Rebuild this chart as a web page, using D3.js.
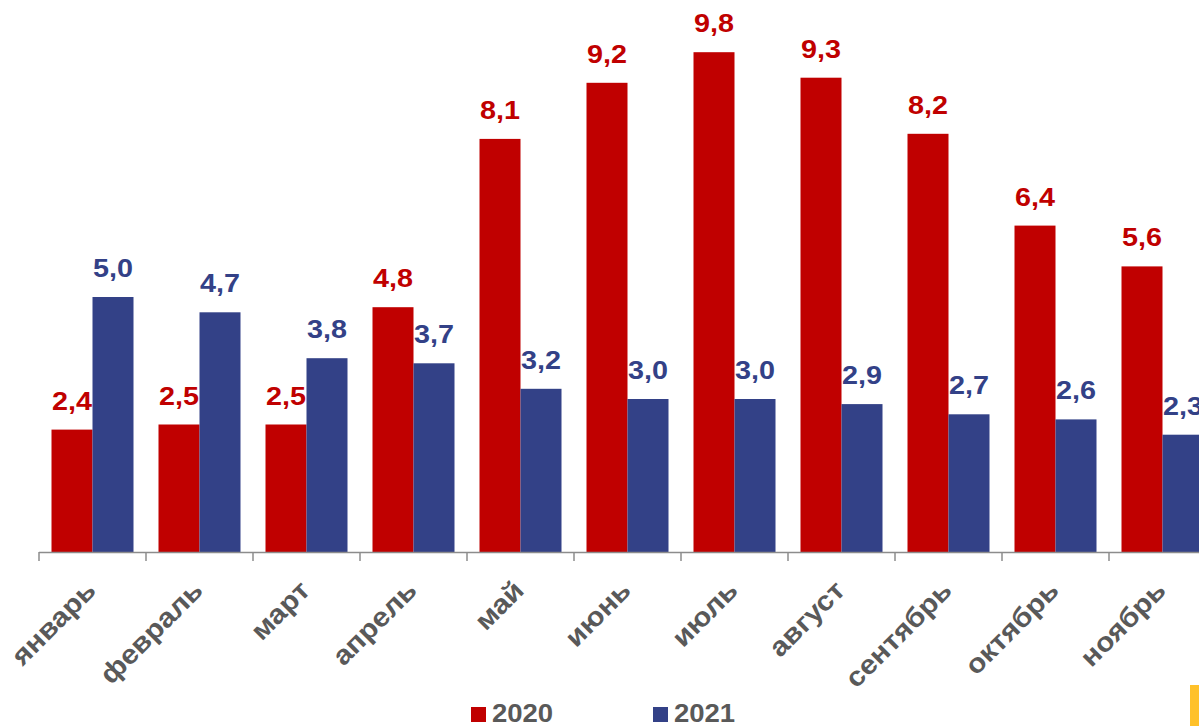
<!DOCTYPE html>
<html>
<head>
<meta charset="utf-8">
<script src="https://cdn.jsdelivr.net/npm/d3@7"></script>
<style>
    body { margin: 0; background: #fff; overflow: hidden; }
</style>
</head>
<body>
<div id="chart"></div>
<script>
const months = ['январь', 'февраль', 'март', 'апрель', 'май', 'июнь', 'июль', 'август', 'сентябрь', 'октябрь', 'ноябрь'];
const values2020 = [2.4, 2.5, 2.5, 4.8, 8.1, 9.2, 9.8, 9.3, 8.2, 6.4, 5.6];
const values2021 = [5.0, 4.7, 3.8, 3.7, 3.2, 3.0, 3.0, 2.9, 2.7, 2.6, 2.3];
const seriesNames = ['2020', '2021'];

const width = 1199;
const height = 726;
const redColor = '#C00000';
const blueColor = '#334187';
const grayText = '#595959';
const fontFamily = '"Liberation Sans", Arial, sans-serif';

// band for every month is ~107px, last one runs off the picture
const bandWidth = 107;
const plotLeft = 39;
const baseY = 552;

const svg = d3
    .select('#chart')
    .append('svg')
    .attr('width', width)
    .attr('height', height);

const xScale = d3.scaleBand()
    .domain(months)
    .range([plotLeft, plotLeft + bandWidth * months.length])
    .paddingInner(0)
    .paddingOuter(0);

const yScale = d3.scaleLinear()
    .domain([0, 10])
    .range([baseY, 42]);

const groupPad = 12.5;
const barWidth = (xScale.bandwidth() - groupPad * 2) / 2;

const rows = months.map((m, i) => ({ month: m, v: [values2020[i], values2021[i]] }));
const colors = [redColor, blueColor];

// bars
seriesNames.forEach((name, s) => {
    svg.append('g')
        .selectAll('rect')
        .data(rows)
        .enter()
        .append('rect')
        .attr('x', (d) => xScale(d.month) + groupPad + s * barWidth)
        .attr('y', (d) => yScale(d.v[s]))
        .attr('width', barWidth)
        .attr('height', (d) => baseY - yScale(d.v[s]))
        .attr('fill', colors[s]);

    // value labels (font is a bit wider in the original, so stretch it)
    svg.append('g')
        .selectAll('text')
        .data(rows)
        .enter()
        .append('text')
        .attr('transform', (d) => {
            const cx = xScale(d.month) + groupPad + s * barWidth + barWidth / 2;
            return `translate(${cx}, ${yScale(d.v[s]) - 20}) scale(1.15, 1)`;
        })
        .attr('text-anchor', 'middle')
        .style('font-family', fontFamily)
        .style('font-weight', 'bold')
        .style('font-size', '25px')
        .attr('fill', colors[s])
        .text((d) => d.v[s].toFixed(1).replace('.', ','));
});

// x axis line + ticks at band edges
const axis = svg.append('g').attr('stroke', '#8c8c8c').attr('stroke-width', 1.5);
axis.append('line')
    .attr('x1', plotLeft)
    .attr('x2', plotLeft + bandWidth * months.length)
    .attr('y1', baseY + 0.5)
    .attr('y2', baseY + 0.5);

axis.selectAll('.tick')
    .data(months)
    .enter()
    .append('line')
    .attr('class', 'tick')
    .attr('x1', (d) => xScale(d))
    .attr('x2', (d) => xScale(d))
    .attr('y1', baseY)
    .attr('y2', baseY + 9);

// rotated month labels
svg.append('g')
    .selectAll('text')
    .data(months)
    .enter()
    .append('text')
    .attr('transform', (d) => `translate(${xScale(d) + xScale.bandwidth() / 2 + 5}, ${baseY + 40}) rotate(-45) scale(1.1, 1)`)
    .attr('text-anchor', 'end')
    .style('font-family', fontFamily)
    .style('font-weight', 'bold')
    .style('font-size', '27px')
    .attr('fill', grayText)
    .text((d) => d);

// legend
const legendX = [471, 653];
const legend = svg.append('g');
seriesNames.forEach((name, s) => {
    legend.append('rect')
        .attr('x', legendX[s])
        .attr('y', 707)
        .attr('width', 15)
        .attr('height', 15)
        .attr('fill', colors[s]);
    legend.append('text')
        .attr('transform', `translate(${legendX[s] + 21}, 722) scale(1.1, 1)`)
        .style('font-family', fontFamily)
        .style('font-weight', 'bold')
        .style('font-size', '25px')
        .attr('fill', grayText)
        .text(name);
});

// small yellow block in the corner
svg.append('rect')
    .attr('x', 1190)
    .attr('y', 685)
    .attr('width', 9)
    .attr('height', 41)
    .attr('fill', '#FFC12A');
</script>
</body>
</html>
